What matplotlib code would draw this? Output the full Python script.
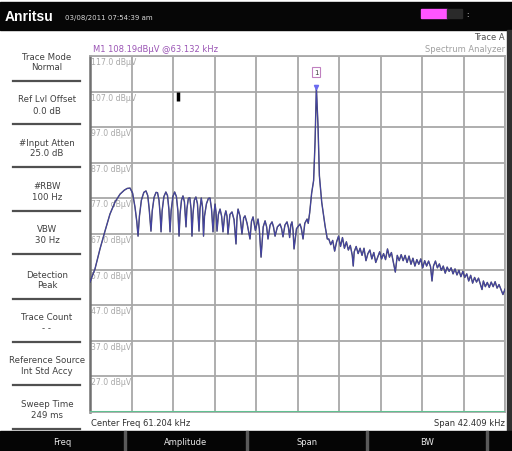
import matplotlib
matplotlib.use("Agg")
import matplotlib.pyplot as plt
from matplotlib.patches import Rectangle
import numpy as np

# ---------------- data ----------------
freq_khz = [
    # rising edge and first lobes
    40.00, 40.51, 41.02, 41.53, 42.04, 42.56, 43.07, 43.50, 43.80, 44.09, 44.35, 44.60, 44.78, 44.91,
    45.05, 45.25, 45.50, 45.72, 45.90, 46.05, 46.15, 46.23,
    46.36, 46.55, 46.75, 46.90, 47.05, 47.18, 47.26,
    47.37, 47.55, 47.75, 47.92, 48.06, 48.18,
    48.29, 48.47, 48.65, 48.83, 48.98, 49.10,
    49.20, 49.35, 49.50, 49.65, 49.81,
    49.90, 50.05, 50.20, 50.33, 50.42,
    50.52, 50.66, 50.82, 50.98, 51.14,
    51.24, 51.37, 51.50, 51.60,
    51.70, 51.90, 52.10, 52.26, 52.42, 52.57,
    52.68, 52.78, 52.88, 52.98, 53.12, 53.29, 53.45, 53.59, 53.75, 53.88, 54.00, 54.10,
    54.30, 54.51, 54.72, 54.92, 55.02, 55.13, 55.33, 55.53, 55.70, 55.84, 56.05, 56.35,
    56.50, 56.66, 56.90, 57.17, 57.30, 57.48, 57.70, 57.89, 58.05, 58.19, 58.40, 58.60,
    58.75, 58.91, 59.15, 59.42, 59.58, 59.72, 59.92, 60.13, 60.28, 60.40, 60.52, 60.64,
    60.75, 60.85, 61.10, 61.46, 61.60, 61.77, 61.95, 62.18, 62.30,
    # carrier
    62.45, 62.65, 62.85, 63.00, 63.08, 63.132, 63.30, 63.44, 63.68, 64.02, 64.25,
    # noise floor to the right
    64.4, 64.6, 64.8, 65.0, 65.2, 65.4, 65.6, 65.8, 66.0, 66.2, 66.4, 66.6, 66.8, 66.9,
    67.0, 67.2, 67.4, 67.6, 67.8, 68.0, 68.2, 68.4, 68.6, 68.8, 69.0, 69.2, 69.4, 69.6,
    69.8, 70.0, 70.2, 70.4, 70.6, 70.8, 71.0, 71.2, 71.4, 71.6, 71.8, 72.0, 72.2, 72.4,
    72.6, 72.8, 73.0, 73.2, 73.4, 73.6, 73.8, 74.0, 74.2, 74.4, 74.6, 74.8, 74.95, 75.1,
    75.3, 75.5, 75.7, 75.9, 76.1, 76.3, 76.5, 76.7, 76.9, 77.1, 77.3, 77.5, 77.7, 77.9,
    78.1, 78.3, 78.5, 78.7, 78.9, 79.1, 79.3, 79.5, 79.7, 79.9, 80.06, 80.2, 80.4, 80.6,
    80.8, 81.0, 81.2, 81.4, 81.6, 81.8, 82.0, 82.2, 82.41,
]
level_dbuv = [
    53.5, 57.2, 62.8, 67.8, 72.6, 76.0, 78.2, 79.3, 79.8, 79.9, 78.5, 74.5, 70.5, 66.4,
    72.0, 76.5, 78.7, 79.1, 77.8, 74.0, 70.5, 67.8,
    73.5, 77.3, 78.7, 78.6, 76.5, 72.0, 67.6,
    73.5, 77.5, 78.8, 77.8, 74.0, 67.6,
    73.5, 77.5, 78.8, 77.5, 73.5, 66.4,
    72.5, 76.5, 77.7, 76.0, 69.0,
    74.0, 77.0, 77.2, 74.0, 66.4,
    72.5, 76.5, 77.4, 75.5, 67.8,
    74.0, 77.1, 74.5, 66.4,
    72.0, 75.5, 77.0, 77.1, 74.0, 67.6,
    73.0, 75.4, 73.0, 67.8, 72.5, 74.0, 72.0, 67.6, 72.0, 73.5, 72.0, 67.0,
    72.5, 73.2, 71.0, 64.2, 71.5, 74.0, 72.0, 67.0, 71.5, 72.1, 70.0, 65.6,
    70.5, 71.8, 68.0, 71.2, 68.5, 60.5, 69.0, 70.7, 69.0, 65.6, 69.5, 70.4,
    69.0, 66.4, 69.0, 69.8, 68.5, 66.2, 69.5, 70.4, 68.8, 66.0, 69.5, 70.4,
    68.0, 62.8, 68.5, 69.8, 68.5, 65.6, 70.0, 71.2, 70.0,
    73.0, 78.5, 82.0, 93.0, 102.0, 108.19, 97.4, 83.4, 75.9, 69.3, 65.6,
    65.6, 64.0, 65.2, 62.2, 64.8, 66.4, 63.5, 66.0, 63.0, 64.8, 62.5, 63.8, 61.0, 58.0,
    62.0, 63.5, 61.5, 63.0, 61.0, 63.0, 59.5, 61.5, 62.5, 60.0, 61.8, 59.0, 60.5, 62.0,
    60.0, 61.5, 59.8, 62.8, 60.5, 61.8, 59.0, 56.3, 61.0, 59.5, 61.2, 59.5, 61.0, 59.0,
    60.8, 58.5, 60.2, 58.0, 59.8, 58.5, 60.0, 57.5, 59.5, 58.0, 59.4, 57.8, 53.8, 58.0,
    59.4, 57.5, 58.6, 56.8, 58.0, 56.0, 57.7, 56.5, 57.5, 55.8, 57.2, 55.5, 56.8, 55.0,
    56.5, 54.8, 55.8, 53.8, 55.4, 53.2, 54.8, 53.5, 54.6, 52.8, 51.4, 53.8, 52.2, 53.4,
    52.0, 53.5, 52.2, 53.6, 51.8, 52.8, 51.4, 50.0, 51.5,
]

ref_level = 117.0
db_per_div = 10.0
n_div = 10
center_freq = 61.204
span = 42.409
marker_freq = 63.132
marker_level = 108.19
display_line_freq = 49.0
display_line_level = (104.4, 106.9)

side_items = [
    ("Trace Mode", "Normal"),
    ("Ref Lvl Offset", "0.0 dB"),
    ("#Input Atten", "25.0 dB"),
    ("#RBW", "100 Hz"),
    ("VBW", "30 Hz"),
    ("Detection", "Peak"),
    ("Trace Count", "- -"),
    ("Reference Source", "Int Std Accy"),
    ("Sweep Time", "249 ms"),
]
buttons = ["Freq", "Amplitude", "Span", "BW", ""]

# ---------------- figure ----------------
W, H = 512, 452
fig = plt.figure(figsize=(W / 100, H / 100), dpi=100)
fig.patch.set_facecolor("white")


def fx(x):
    return x / W


def fy(y):
    return 1 - y / H


def rect(x0, y0, x1, y1, color, z=0):
    fig.patches.append(Rectangle((fx(x0), fy(y1)), (x1 - x0) / W, (y1 - y0) / H,
                                 transform=fig.transFigure, color=color, zorder=z))


def ftext(x, y, s, **kw):
    fig.text(fx(x), fy(y), s, **kw)


# top bar
rect(0, 3, 512, 31, "#060606")
ftext(5, 17, "Anritsu", color="white", fontsize=10, fontweight="bold", va="center",
      family="Liberation Sans")
ftext(65, 18, "03/08/2011 07:54:39 am", color="#d8d8d8", fontsize=5, va="center")
rect(421, 10, 447, 19, "#ff55ff", z=2)
rect(447, 10, 462, 19, "#2a2a2a", z=2)
ftext(466, 15, ":", color="white", fontsize=5, va="center")

ftext(505, 37, "Trace A", color="#505050", fontsize=6, ha="right", va="center")
ftext(505, 50, "Spectrum Analyzer", color="#a0a0a0", fontsize=6, ha="right", va="center")
ftext(93, 50, "M1 108.19dBμV @63.132 kHz", color="#9b55b5", fontsize=6, va="center")

# right dark bar
rect(507, 31, 512, 432, "#303030")

# left panel
sep_y = [82, 125, 168, 212, 255, 300, 343, 386, 430]
for i, (t, v) in enumerate(side_items):
    top = sep_y[i] - 43
    ftext(47, top + 18, t, color="#404040", fontsize=6.2, ha="center", va="center")
    ftext(47, top + 29, v, color="#404040", fontsize=6.2, ha="center", va="center")
for y in sep_y:
    fig.lines.append(plt.Line2D([fx(13), fx(80)], [fy(y), fy(y)], transform=fig.transFigure,
                                color="#505050", lw=1.6))

# bottom texts
ftext(91, 424, f"Center Freq {center_freq:.3f} kHz", color="#303030", fontsize=6, va="center")
ftext(505, 424, f"Span {span:.3f} kHz", color="#303030", fontsize=6, ha="right", va="center")

# bottom buttons
rect(0, 432, 512, 452, "#050505")
edges = [0, 125, 247, 367, 487, 512]
for i, b in enumerate(buttons):
    if i > 0:
        rect(edges[i] - 1, 432, edges[i] + 1, 452, "#5a5a5a", z=1)
    ftext((edges[i] + edges[i + 1]) / 2, 443, b, color="#e8e8e8", fontsize=6,
          ha="center", va="center")

# ---------------- plot area ----------------
ax = fig.add_axes([fx(90), fy(413), 415 / W, 356 / H])
x0 = center_freq - span / 2
x1 = center_freq + span / 2
y_bottom = ref_level - n_div * db_per_div
ax.set_xlim(x0, x1)
ax.set_ylim(y_bottom, ref_level)
ax.set_xticks(np.linspace(x0, x1, n_div + 1))
ax.set_yticks(np.arange(y_bottom, ref_level + 0.1, db_per_div))
ax.tick_params(length=0, labelleft=False, labelbottom=False)
ax.grid(True, color="#a8a8a8", lw=1.3)
ax.set_axisbelow(True)
for s in ax.spines.values():
    s.set_color("#a8a8a8")
    s.set_linewidth(1.3)
ax.spines["left"].set_color("#707070")
ax.spines["left"].set_linewidth(1.8)

for k in range(n_div):
    v = ref_level - k * db_per_div
    ax.text(x0 + 0.15, v - 0.3, f"{v:.1f} dBμV", color="#a8a8a8", fontsize=5.6,
            va="top", ha="left", zorder=1)

ax.axhline(y_bottom, color="#60c090", lw=2.2, zorder=3)

ax.plot(freq_khz, level_dbuv, color="#3c3c3c", lw=1.0, zorder=4)
ax.plot(freq_khz, level_dbuv, color="#4a4ae6", lw=0.7, alpha=0.65, zorder=5)

ax.plot([display_line_freq, display_line_freq], display_line_level, color="black",
        lw=2.5, zorder=5, solid_capstyle="butt")

ax.plot([marker_freq], [marker_level], marker="v", ms=3, color="#6a6af0", zorder=6)
ax.annotate("1", (marker_freq, marker_level), xytext=(0, 11), textcoords="offset points",
            ha="center", va="center", fontsize=5, color="#404040",
            bbox=dict(boxstyle="square,pad=0.25", fc="white", ec="#c080c0", lw=0.8))

fig.savefig("out.png", dpi=100)
